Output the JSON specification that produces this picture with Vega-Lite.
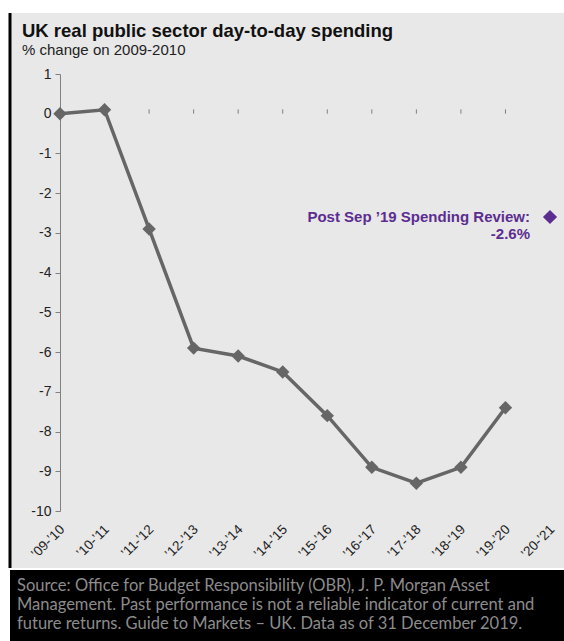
{
  "$schema": "https://vega.github.io/schema/vega-lite/v6.json",
  "background": "white",
  "padding": {"left": 8, "top": 11, "right": 0, "bottom": 0},
  "autosize": {"type": "pad"},
  "spacing": 0,
  "config": {"font": "Liberation Sans", "concat": {"spacing": 0}},
  "datasets": {
    "spend": [
      {"year": "’09-’10", "value": 0},
      {"year": "’10-’11", "value": 0.1},
      {"year": "’11-’12", "value": -2.9},
      {"year": "’12-’13", "value": -5.9},
      {"year": "’13-’14", "value": -6.1},
      {"year": "’14-’15", "value": -6.5},
      {"year": "’15-’16", "value": -7.6},
      {"year": "’16-’17", "value": -8.9},
      {"year": "’17-’18", "value": -9.3},
      {"year": "’18-’19", "value": -8.9},
      {"year": "’19-’20", "value": -7.4}
    ],
    "review": [
      {"year": "’20-’21", "value": -2.6, "label": "Post Sep ’19 Spending Review:\n-2.6%"}
    ],
    "footer": [
      {"line": 1, "text": "Source: Office for Budget Responsibility (OBR), J. P. Morgan Asset"},
      {"line": 2, "text": "Management. Past performance is not a reliable indicator of current and"},
      {"line": 3, "text": "future returns. Guide to Markets – UK. Data as of 31 December 2019."}
    ]
  },
  "vconcat": [
    {
      "width": 556,
      "height": 555,
      "view": {"fill": "#e8e8e8", "stroke": "black", "strokeWidth": 3, "strokeDash": [0, 1667, 555, 0]},
      "title": {
        "text": "UK real public sector day-to-day spending",
        "subtitle": "% change on 2009-2010",
        "anchor": "start",
        "frame": "group",
        "offset": -45,
        "dx": 12,
        "font": "Liberation Sans",
        "fontSize": 18.5,
        "fontWeight": "bold",
        "color": "#111111",
        "subtitleFont": "Liberation Sans",
        "subtitleFontSize": 15,
        "subtitleColor": "#222222",
        "subtitlePadding": 3
      },
      "encoding": {
        "x": {
          "field": "year",
          "type": "nominal",
          "sort": null,
          "scale": {
            "type": "point",
            "domain": ["’09-’10", "’10-’11", "’11-’12", "’12-’13", "’13-’14", "’14-’15", "’15-’16", "’16-’17", "’17-’18", "’18-’19", "’19-’20", "’20-’21"],
            "range": [50, 540],
            "padding": 0
          },
          "axis": {
            "orient": "bottom",
            "offset": -48,
            "title": null,
            "labelAngle": -45,
            "labelOffset": -3,
            "domain": false,
            "ticks": false,
            "tickSize": 0,
            "labelPadding": 2,
            "labelFont": "Liberation Sans",
            "labelFontSize": 13.5,
            "labelColor": "#222222"
          }
        },
        "y": {
          "field": "value",
          "type": "quantitative",
          "scale": {"domain": [-10, 1], "range": [498, 61], "nice": false, "zero": false},
          "axis": {
            "orient": "left",
            "offset": -50,
            "title": null,
            "values": [1, 0, -1, -2, -3, -4, -5, -6, -7, -8, -9, -10],
            "labelExpr": "'' + datum.value",
            "grid": false,
            "domainColor": "#808080",
            "tickColor": "#808080",
            "tickSize": 5,
            "labelPadding": 4,
            "labelFont": "Liberation Sans",
            "labelFontSize": 14,
            "labelColor": "#222222"
          }
        }
      },
      "layer": [
        {
          "data": {"values": [{}]},
          "mark": {"type": "rule", "color": "#808080", "strokeWidth": 1.5},
          "encoding": {
            "x": {"datum": "’09-’10", "type": "nominal"},
            "x2": {"datum": "’20-’21"},
            "y": {"datum": 0, "type": "quantitative"}
          }
        },
        {
          "data": {"name": "spend"},
          "mark": {"type": "rule", "color": "#808080", "strokeWidth": 1},
          "encoding": {
            "y": {"datum": 0, "type": "quantitative"},
            "y2": {"datum": 0.11}
          }
        },
        {
          "data": {"name": "spend"},
          "mark": {"type": "line", "color": "#666666", "strokeWidth": 3.5}
        },
        {
          "data": {"name": "spend"},
          "mark": {"type": "point", "shape": "diamond", "filled": true, "opacity": 1, "size": 180, "color": "#666666"}
        },
        {
          "data": {"name": "review"},
          "mark": {"type": "point", "shape": "diamond", "filled": true, "opacity": 1, "size": 200, "color": "#5c2d91"}
        },
        {
          "data": {"name": "review"},
          "mark": {"type": "text", "align": "right", "baseline": "middle", "dx": -20, "lineBreak": "\n", "lineHeight": 17, "font": "Liberation Sans", "fontSize": 15, "fontWeight": "bold", "color": "#5c2d91"},
          "encoding": {"text": {"field": "label"}}
        }
      ]
    },
    {
      "width": 556,
      "height": 75,
      "view": {"fill": "black", "stroke": null},
      "data": {"name": "footer"},
      "mark": {"type": "text", "align": "left", "baseline": "alphabetic", "font": "Lato", "fontSize": 16.5, "color": "#8c8c8c", "dx": 7},
      "encoding": {
        "y": {"field": "line", "type": "ordinal", "axis": null, "scale": {"type": "point", "range": [21, 59], "padding": 0}},
        "x": {"value": 0},
        "text": {"field": "text"}
      }
    }
  ]
}
